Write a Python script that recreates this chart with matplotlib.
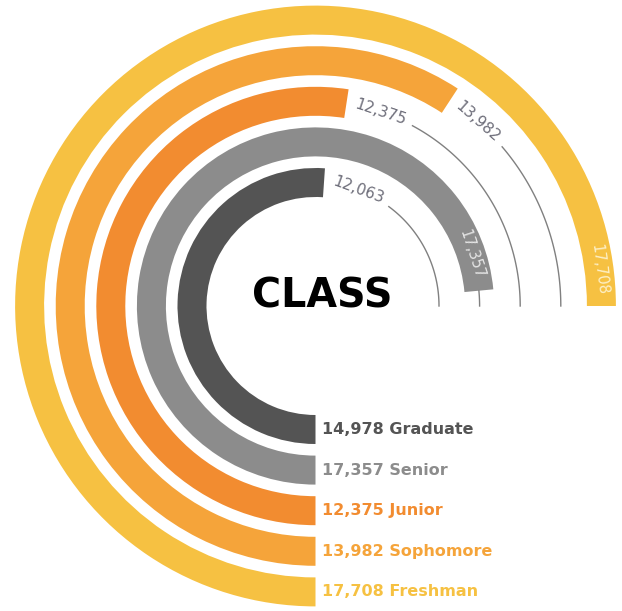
import numpy as np
import matplotlib
matplotlib.use('Agg')
import matplotlib.pyplot as plt

# data, innermost ring first
classes = ["Graduate", "Senior", "Junior", "Sophomore", "Freshman"]
arc_values = [12063, 17357, 12375, 13982, 17708]      # numbers written at the arc ends
legend_values = [14978, 17357, 12375, 13982, 17708]   # numbers in the key at the bottom
colors = ["#545454", "#8c8c8c", "#f28c30", "#f5a43a", "#f6c142"]
inner_label_colors = ["#e6e6e6", "#e6e6e6", "#fde3c8", "#fde6c4", "#fdf0c8"]

W, H = 622, 611
cx, cy = 315.5, 306.0     # pixel centre of the rings
R = 310.0
r0, pitch, band = 123.5, 40.6, 29.0

fig = plt.figure(figsize=(W / 100, H / 100), dpi=100)
ax = fig.add_axes([(cx - R) / W, (H - cy - R) / H, 2 * R / W, 2 * R / H], projection='polar')
ax.set_theta_zero_location('S')
ax.set_theta_direction(-1)
ax.set_ylim(0, R)
ax.axis('off')

full = 1.5 * np.pi
vmax = max(arc_values)

for i, name in enumerate(classes):
    r = r0 + i * pitch
    theta = arc_values[i] / vmax * full
    ax.barh(r, theta, left=0, height=band, color=colors[i], edgecolor='none')

    label = "{:,}".format(arc_values[i])
    room = (full - theta) * r
    if room < 75:
        # label sits inside the bar, near its end
        a = theta - 37 / r
        ax.text(a, r, label, rotation=180 - np.degrees(a), rotation_mode='anchor',
                ha='center', va='center', fontsize=10.5, color=inner_label_colors[i])
        line_start = theta
    else:
        a = theta + 35 / r
        ax.text(a, r, label, rotation=180 - np.degrees(a), rotation_mode='anchor',
                ha='center', va='center', fontsize=11, color="#6e6e7a")
        line_start = theta + 70 / r
    if line_start < full:
        t = np.linspace(line_start, full, 100)
        ax.plot(t, np.full_like(t, r), color="#808080", lw=1.0)

    # key at the bottom
    ax.annotate("{:,} {}".format(legend_values[i], name), xy=(0, r), xytext=(7, 0),
                textcoords='offset pixels', ha='left', va='center',
                fontsize=11.5, fontweight='bold', color=colors[i])

fig.text(322.5 / W, 1 - 296.5 / H, "CLASS", ha='center', va='center',
         fontsize=28.5, fontweight='bold', color='black')

fig.savefig("out.png", dpi=100, facecolor='white')
